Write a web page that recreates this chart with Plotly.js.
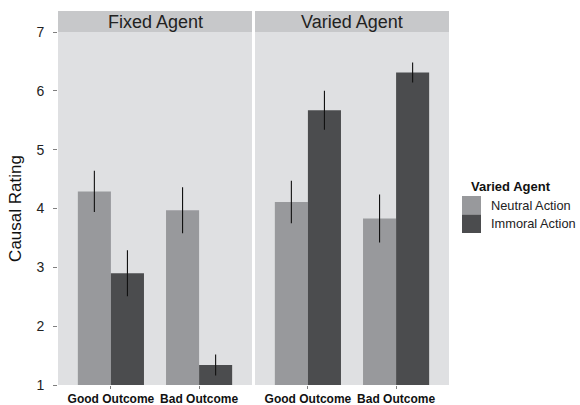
<!DOCTYPE html>
<html>
<head>
<meta charset="utf-8">
<script src="https://cdn.plot.ly/plotly-3.0.1.min.js"></script>
<style>html,body{margin:0;padding:0;background:#fff;}#chart{width:580px;height:405px;}</style>
</head>
<body>
<div id="chart"></div>
<script>
const categories = ["Good Outcome", "Bad Outcome"];
const panels = ["Fixed Agent", "Varied Agent"];
const seriesNames = ["Neutral Action", "Immoral Action"];
const legendTitle = "Varied Agent";
const yTicks = [1, 2, 3, 4, 5, 6, 7];

const fixedNeutral = [4.29, 3.97];
const fixedNeutralErr = [0.35, 0.39];
const fixedImmoral = [2.90, 1.34];
const fixedImmoralErr = [0.39, 0.18];
const variedNeutral = [4.11, 3.83];
const variedNeutralErr = [0.36, 0.41];
const variedImmoral = [5.67, 6.31];
const variedImmoralErr = [0.33, 0.17];

const colors = ["#98999c", "#4b4c4e"];
const font = "Liberation Sans, Arial, Helvetica, sans-serif";

function bar(y, err, idx, xa) {
  return {
    type: "bar", x: categories, y: y.map(v => v - 1), base: 1, xaxis: xa, yaxis: "y",
    name: seriesNames[idx], showlegend: false,
    marker: {color: colors[idx], line: {width: 0}},
    error_y: {type: "data", array: err, visible: true, color: "#111", thickness: 1.1, width: 0},
    hoverinfo: "skip"
  };
}

const data = [
  bar(fixedNeutral, fixedNeutralErr, 0, "x"),
  bar(fixedImmoral, fixedImmoralErr, 1, "x"),
  bar(variedNeutral, variedNeutralErr, 0, "x2"),
  bar(variedImmoral, variedImmoralErr, 1, "x2")
];

const plotW = 391, plotH = 353;
const stripH = 21;
const xaxisCommon = {
  type: "category", range: [-0.6, 1.6], showgrid: false, zeroline: false,
  ticks: "outside", ticklen: 3, tickcolor: "#7f7f7f", tickwidth: 1,
  tickfont: {family: font, size: 12, color: "#111", weight: "bold"},
  showline: false, fixedrange: true
};

const layout = {
  width: 580, height: 405,
  margin: {l: 58, r: 131, t: 32, b: 20, autoexpand: false},
  paper_bgcolor: "#ffffff", plot_bgcolor: "rgba(0,0,0,0)",
  barmode: "group", bargap: 0.25, bargroupgap: 0,
  font: {family: font, color: "#222"},
  showlegend: false,
  xaxis: Object.assign({domain: [0, 194/plotW], anchor: "y"}, xaxisCommon),
  xaxis2: Object.assign({domain: [197/plotW, 1], anchor: "y"}, xaxisCommon),
  yaxis: {
    range: [1, 7], tickvals: yTicks, ticktext: yTicks.map(String),
    showgrid: false, zeroline: false, ticks: "outside", ticklen: 4, tickcolor: "#7f7f7f",
    ticklabelstandoff: 6,
    tickfont: {family: font, size: 14, color: "#222"},
    title: {text: "Causal Rating", font: {family: font, size: 17, color: "#111"}, standoff: 10},
    fixedrange: true
  },
  shapes: [],
  annotations: []
};
["x", "x2"].forEach((xa, i) => {
  layout.shapes.push({type: "rect", xref: xa + " domain", yref: "paper", x0: 0, x1: 1, y0: 0, y1: 1,
    fillcolor: "#dfe0e2", line: {width: 0}, layer: "below"});
  layout.shapes.push({type: "rect", xref: xa + " domain", yref: "paper", x0: 0, x1: 1, y0: 1, y1: 1 + stripH/plotH,
    fillcolor: "#c7c8ca", line: {width: 0}, layer: "below"});
  layout.annotations.push({xref: xa + " domain", yref: "paper", x: 0.5, y: 1 + stripH/(2*plotH),
    text: panels[i], showarrow: false, xanchor: "center", yanchor: "middle",
    font: {family: font, size: 18, color: "#222"}});
});

// legend (keys + labels placed in paper coords derived from the reference layout)
const px = v => (v - 58) / plotW;
const py = v => (385 - v) / plotH;
layout.annotations.push({xref: "paper", yref: "paper", x: px(469), y: py(186), text: "<b>" + legendTitle + "</b>",
  showarrow: false, xanchor: "left", yanchor: "middle", font: {family: font, size: 13, color: "#111"}});
seriesNames.forEach((name, i) => {
  const top = 196 + i * 18.5;
  layout.shapes.push({type: "rect", xref: "paper", yref: "paper", x0: px(462), x1: px(481), y0: py(top + 18.5), y1: py(top),
    fillcolor: colors[i], line: {width: 0}});
  layout.annotations.push({xref: "paper", yref: "paper", x: px(489), y: py(top + 9.25), text: name,
    showarrow: false, xanchor: "left", yanchor: "middle", font: {family: font, size: 12.8, color: "#222"}});
});

Plotly.newPlot("chart", data, layout, {displayModeBar: false, staticPlot: true});
</script>
</body>
</html>
